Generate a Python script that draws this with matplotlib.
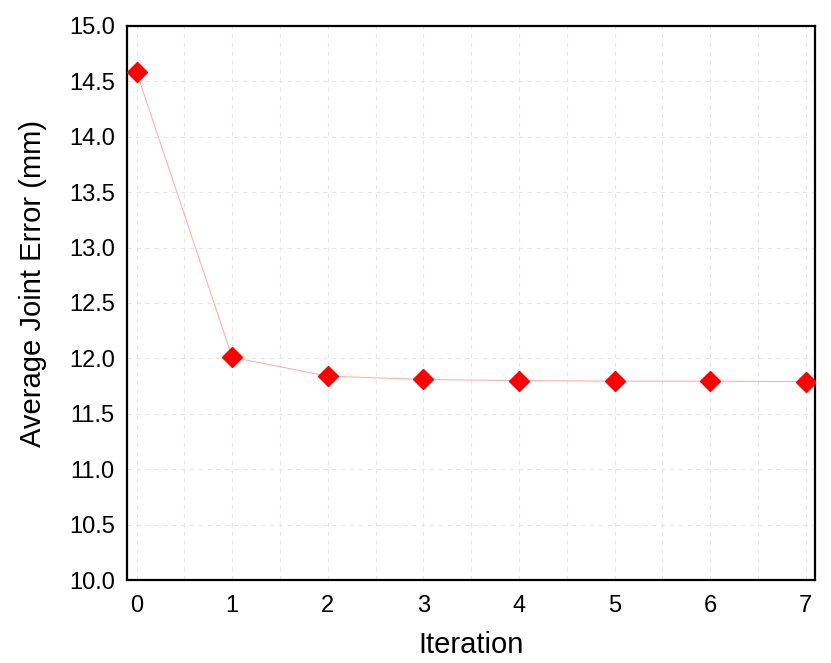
import matplotlib
matplotlib.use("Agg")
import matplotlib.pyplot as plt
from matplotlib.ticker import MultipleLocator, FormatStrFormatter

plt.rcParams['font.family'] = ['Liberation Sans', 'DejaVu Sans']

# Data
iterations = [0, 1, 2, 3, 4, 5, 6, 7]
avg_joint_error = [14.58, 12.01, 11.84, 11.81, 11.80, 11.795, 11.795, 11.79]

fig = plt.figure(figsize=(8.31, 6.63), dpi=100)
ax = fig.add_axes([0.153, 0.125, 0.828, 0.836])

ax.plot(iterations, avg_joint_error, color='#ff9090', lw=0.7, alpha=0.8, zorder=2)
ax.plot(iterations, avg_joint_error, 'D', color='red', ms=10.5, lw=0, zorder=3)

ax.set_xlim(-0.1, 7.1)
ax.set_ylim(10, 15)
ax.xaxis.set_major_locator(MultipleLocator(1))
ax.xaxis.set_minor_locator(MultipleLocator(0.5))
ax.yaxis.set_major_locator(MultipleLocator(0.5))
ax.yaxis.set_major_formatter(FormatStrFormatter('%.1f'))

ax.grid(True, which='both', linestyle=(0, (4, 4)), color='#e6e6e6', lw=0.8)
ax.set_axisbelow(True)
ax.tick_params(which='both', length=0, labelsize=17)
ax.tick_params(axis='y', pad=9)
ax.tick_params(axis='x', pad=11)

for sp in ax.spines.values():
    sp.set_linewidth(1.6)

ax.set_xlabel('Iteration', fontsize=21, labelpad=10)
ax.set_ylabel('Average Joint Error (mm)', fontsize=21)
ax.yaxis.set_label_coords(-0.117, 0.536)

fig.savefig('out.png', dpi=100)
